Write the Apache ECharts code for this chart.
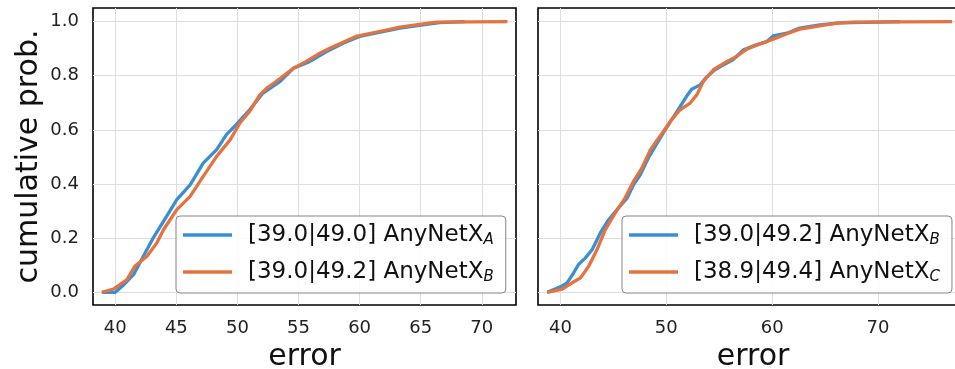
<!DOCTYPE html>
<html>
<head>
<meta charset="utf-8">
<script src="https://cdn.jsdelivr.net/npm/echarts@6/dist/echarts.min.js"></script>
<style>html,body{margin:0;padding:0;background:#fff;}#c{width:955px;height:369px;}</style>
</head>
<body>
<div id="c"></div>
<script>
// ---- data ----
const leftA_err = [38.9,40.0,40.7,41.5,42.3,43.1,44.2,45.04,46.13,47.2,48.3,49.1,49.9,51.0,52.1,53.5,54.6,55.9,57.3,58.65,60.0,61.9,63.3,65.2,66.55,68.6];
const leftA_cdf = [0,0.0,0.028,0.065,0.133,0.2,0.28,0.342,0.397,0.477,0.527,0.582,0.619,0.674,0.736,0.779,0.828,0.852,0.889,0.92,0.945,0.963,0.976,0.988,0.996,1.0];
const leftB_err = [38.9,39.86,40.96,41.6,42.6,43.4,43.95,45.04,46.13,47.2,48.3,49.4,50.2,51.0,51.85,52.4,53.0,54.6,55.6,56.75,57.6,59.7,61.9,63.3,65.2,66.3,72.1];
const leftB_cdf = [0,0.012,0.047,0.096,0.133,0.182,0.231,0.305,0.354,0.428,0.502,0.563,0.625,0.668,0.73,0.754,0.773,0.828,0.852,0.883,0.902,0.945,0.966,0.979,0.991,0.998,1.0];
const rightB_err = [38.75,40.0,40.63,41.25,41.7,42.36,43.0,43.77,44.55,45.34,46.3,46.9,47.54,48.3,48.95,49.7,50.5,51.3,51.9,52.4,53.2,53.8,54.6,55.4,56.3,57.3,58.5,59.5,60.1,61.4,62.6,64.5,66.4,72.1];
const rightB_cdf = [0,0.02,0.035,0.072,0.102,0.127,0.158,0.219,0.268,0.305,0.348,0.397,0.434,0.496,0.539,0.588,0.637,0.686,0.723,0.75,0.766,0.795,0.822,0.84,0.859,0.896,0.914,0.926,0.947,0.957,0.976,0.988,0.995,1.0];
const rightC_err = [38.75,40.16,41.1,41.9,42.67,43.46,44.24,45.18,46.1,46.9,47.7,48.5,49.4,50.37,51.3,52.25,52.9,53.5,54.45,55.7,56.65,57.6,58.85,60.1,61.4,62.6,64.5,66.1,67.6,77.0];
const rightC_cdf = [0,0.012,0.035,0.053,0.096,0.158,0.231,0.293,0.348,0.41,0.459,0.527,0.576,0.631,0.674,0.699,0.73,0.779,0.822,0.852,0.871,0.898,0.917,0.935,0.955,0.972,0.984,0.994,0.998,1.0];

const xTicksLeft = [40,45,50,55,60,65,70];
const xTicksRight = [40,50,60,70];
const yTicks = [0,0.2,0.4,0.6,0.8,1.0];

const legendLeftLabels = ['[39.0|49.0] AnyNetX{s|A}', '[39.0|49.2] AnyNetX{s|B}'];
const legendRightLabels = ['[39.0|49.2] AnyNetX{s|B}', '[38.9|49.4] AnyNetX{s|C}'];

// ---- styles ----
const BLUE = '#3a8fd3';
const ORANGE = '#e4733f';
const FONT = 'DejaVu Sans';
const zip = (a,b) => a.map((v,i)=>[v,b[i]]);

const labelMap = {LA: legendLeftLabels[0], LB: legendLeftLabels[1], RB: legendRightLabels[0], RC: legendRightLabels[1]};

function xAxisCfg(gi, min, max, ticks) {
  return {
    type: 'value', gridIndex: gi, min: min, max: max,
    name: 'error', nameLocation: 'middle', nameGap: 35,
    nameTextStyle: {fontFamily: FONT, fontSize: 30, color: '#111'},
    axisLine: {show: false}, axisTick: {show: false, customValues: ticks},
    axisLabel: {customValues: ticks, fontFamily: FONT, fontSize: 18, color: '#222', margin: 14},
    splitLine: {show: true, lineStyle: {color: '#dedede', width: 1}}
  };
}
function yAxisCfg(gi, showLabels) {
  const c = {
    type: 'value', gridIndex: gi, min: -0.047, max: 1.05,
    axisLine: {show: false}, axisTick: {show: false, customValues: yTicks},
    axisLabel: {show: showLabels, customValues: yTicks, fontFamily: FONT, fontSize: 18, color: '#222', margin: 14,
      formatter: v => v.toFixed(1)},
    splitLine: {show: true, lineStyle: {color: '#dedede', width: 1}}
  };
  if (showLabels) {
    c.name = 'cumulative prob.'; c.nameLocation = 'middle'; c.nameGap = 49;
    c.nameTextStyle = {fontFamily: FONT, fontSize: 30, color: '#111'};
  }
  return c;
}
function legendCfg(left, keys) {
  return {
    orient: 'vertical', left: left, top: 216,
    data: keys, icon: 'rect', itemWidth: 49, itemHeight: 3.5, itemGap: 11,
    padding: [6, 12, 8, 7],
    backgroundColor: 'rgba(255,255,255,0.85)', borderColor: '#858585', borderWidth: 1, borderRadius: 4,
    selectedMode: false,
    formatter: n => labelMap[n],
    textStyle: {fontFamily: FONT, fontSize: 23, color: '#111', lineHeight: 26, padding: [0,0,0,11],
      rich: {s: {fontFamily: FONT, fontSize: 15, fontStyle: 'italic', color: '#111', lineHeight: 20, verticalAlign: 'bottom'}}}
  };
}
function lineSeries(name, xi, yi, data, color, z) {
  return {name: name, type: 'line', xAxisIndex: xi, yAxisIndex: yi, data: data, symbol: 'none', showSymbol: false,
    lineStyle: {color: color, width: 3.3}, itemStyle: {color: color}, z: z, animation: false, silent: true};
}

const chart = echarts.init(document.getElementById('c'), null, {renderer: 'canvas'});
chart.setOption({
  animation: false,
  backgroundColor: '#fff',
  grid: [
    {left: 93, top: 8, width: 423, height: 297, show: true, borderColor: '#000', borderWidth: 1.6, backgroundColor: 'transparent', outerBoundsMode: 'none', containLabel: false},
    {left: 538, top: 8, width: 430, height: 297, show: true, borderColor: '#000', borderWidth: 1.6, backgroundColor: 'transparent', outerBoundsMode: 'none', containLabel: false}
  ],
  xAxis: [xAxisCfg(0, 38.18, 72.8, xTicksLeft), xAxisCfg(1, 37.88, 78.5, xTicksRight)],
  yAxis: [yAxisCfg(0, true), yAxisCfg(1, false)],
  legend: [legendCfg(176, ['LA','LB']), legendCfg(622, ['RB','RC'])],
  series: [
    lineSeries('LA', 0, 0, zip(leftA_err, leftA_cdf), BLUE, 2),
    lineSeries('LB', 0, 0, zip(leftB_err, leftB_cdf), ORANGE, 3),
    lineSeries('RB', 1, 1, zip(rightB_err, rightB_cdf), BLUE, 2),
    lineSeries('RC', 1, 1, zip(rightC_err, rightC_cdf), ORANGE, 3)
  ]
});
</script>
</body>
</html>
